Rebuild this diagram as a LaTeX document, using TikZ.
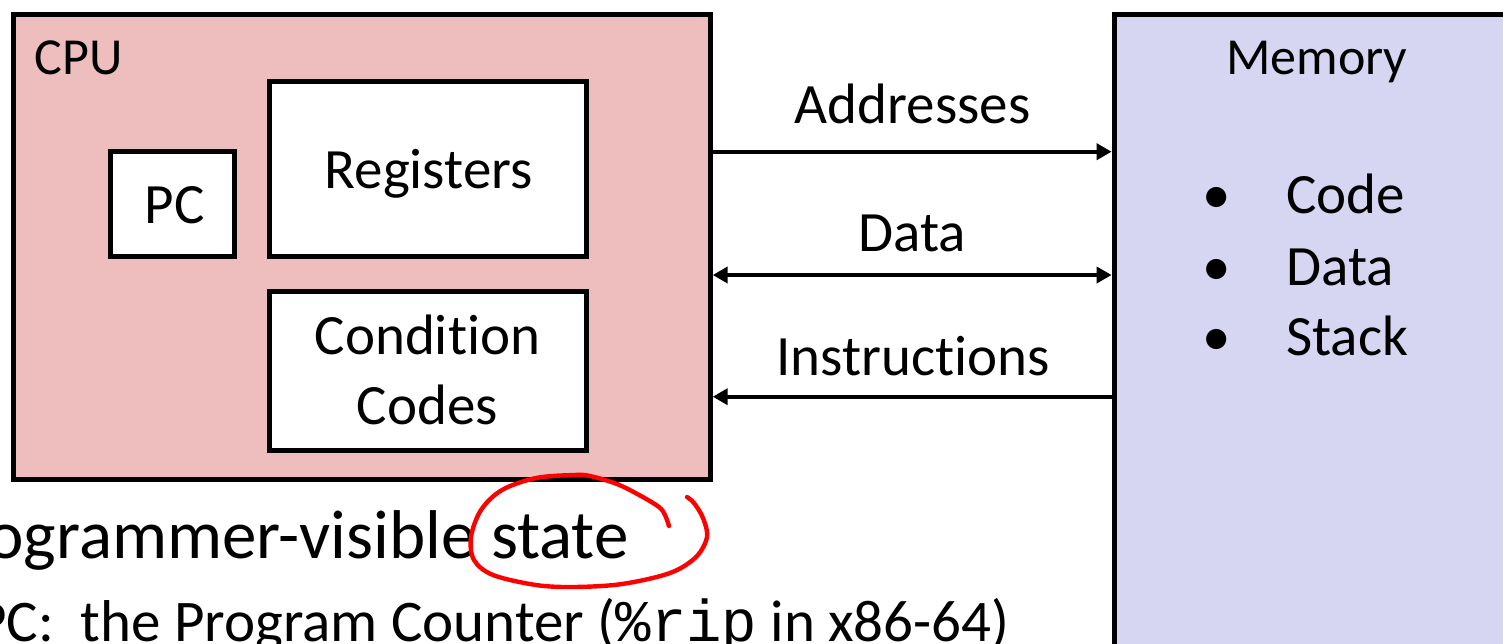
\documentclass[tikz,border=0pt]{standalone}
\usepackage{fontspec}
\setmainfont{Carlito}[Ligatures=NoCommon]
\setmonofont{Liberation Mono}
\usetikzlibrary{arrows.meta}
\definecolor{cpupink}{RGB}{238,190,190}
\definecolor{memlav}{RGB}{214,214,243}
\definecolor{inkred}{RGB}{255,0,0}
\begin{document}
\begin{tikzpicture}[x=0.5pt,y=-0.5pt,
  box/.style={draw=black, line width=2.5pt, inner sep=0pt, outer sep=0pt},
  bigtxt/.style={font=\fontsize{28.5}{35}\selectfont, inner sep=0pt},
  smalltxt/.style={font=\fontsize{26}{31}\selectfont, inner sep=0pt},
  bus/.style={line width=2.2pt, shorten >=1.2pt, shorten <=1.2pt},
  >={Triangle[length=7.5pt,width=8pt]}
]
\useasboundingbox (0,0) rectangle (1503,643);
\clip (0,0) rectangle (1503,643);
\fill[white] (0,0) rectangle (1503,643);

% boxes
\node[box, fill=cpupink, minimum width=348.4pt, minimum height=232.2pt] (cpu) at (361.9,247) {};
\node[box, fill=white, minimum width=61.75pt, minimum height=52.5pt] (pc) at (172.25,204) {};
\node[box, fill=white, minimum width=158.5pt, minimum height=87.5pt] (reg) at (428,169) {};
\node[box, fill=white, minimum width=158.5pt, minimum height=79.5pt] (cc) at (428,371) {};
\node[box, fill=memlav, minimum width=213pt, minimum height=353pt] (mem) at (1327,367) {};

% texts in CPU
\node[smalltxt, anchor=base west] (cpulbl) at (34,74) {CPU};
\node[bigtxt, anchor=base] (pclbl) at (174.5,223.3) {PC};
\node[bigtxt, anchor=base] (reglbl) at (428.6,188.3) {Registers};
\node[bigtxt, align=center] (cclbl) at (427.5,370) {Condition\\Codes};

% memory texts
\node[smalltxt, anchor=base] (memlbl) at (1316.7,74) {Memory};
\node[bigtxt, anchor=base] (bul1) at (1217,213) {•};
\node[bigtxt, anchor=base] (bul2) at (1217,285) {•};
\node[bigtxt, anchor=base] (bul3) at (1217,355) {•};
\node[bigtxt, anchor=base west] (itcode) at (1286,213) {Code};
\node[bigtxt, anchor=base west] (itdata) at (1286,285) {Data};
\node[bigtxt, anchor=base west] (itstack) at (1286,355) {Stack};

% bus labels
\node[bigtxt, anchor=base] (addrlbl) at (912.5,123) {Addresses};
\node[bigtxt, anchor=base] (datalbl) at (912.5,251.7) {Data};
\node[bigtxt, anchor=base] (instrlbl) at (913,375) {Instructions};

% buses
\coordinate (ya) at (0,151.7);
\coordinate (yd) at (0,275);
\coordinate (yi) at (0,396.7);
\draw[bus,->] (cpu.east |- ya) -- (mem.west |- ya);
\draw[bus,<->] (cpu.east |- yd) -- (mem.west |- yd);
\draw[bus,->] (mem.west |- yi) -- (cpu.east |- yi);

% bottom text
\node[font=\fontsize{34.5}{41}\selectfont, anchor=base east, inner sep=0pt] (pvs) at (629,558) {Programmer-visible state};
\node[font=\fontsize{29.5}{35}\selectfont, anchor=base east, inner sep=0pt] (pcline) at (1010,641) {PC:\ \ the Program Counter (\texttt{\%rip} in x86-64)};

% red hand-drawn loop
\draw[inkred, line width=2.2pt, line cap=round, line join=round]
  plot[smooth, tension=0.55] coordinates {(669,526) (665,515) (659,507) (641,496) (617,484) (590,476) (574,475) (536,478) (502,490) (481,510) (471,537) (474,560) (493,575) (536,585) (574,587) (622,584) (670,573) (696,557) (707,537) (703,518) (694,503) (687,497)};
\end{tikzpicture}
\end{document}
